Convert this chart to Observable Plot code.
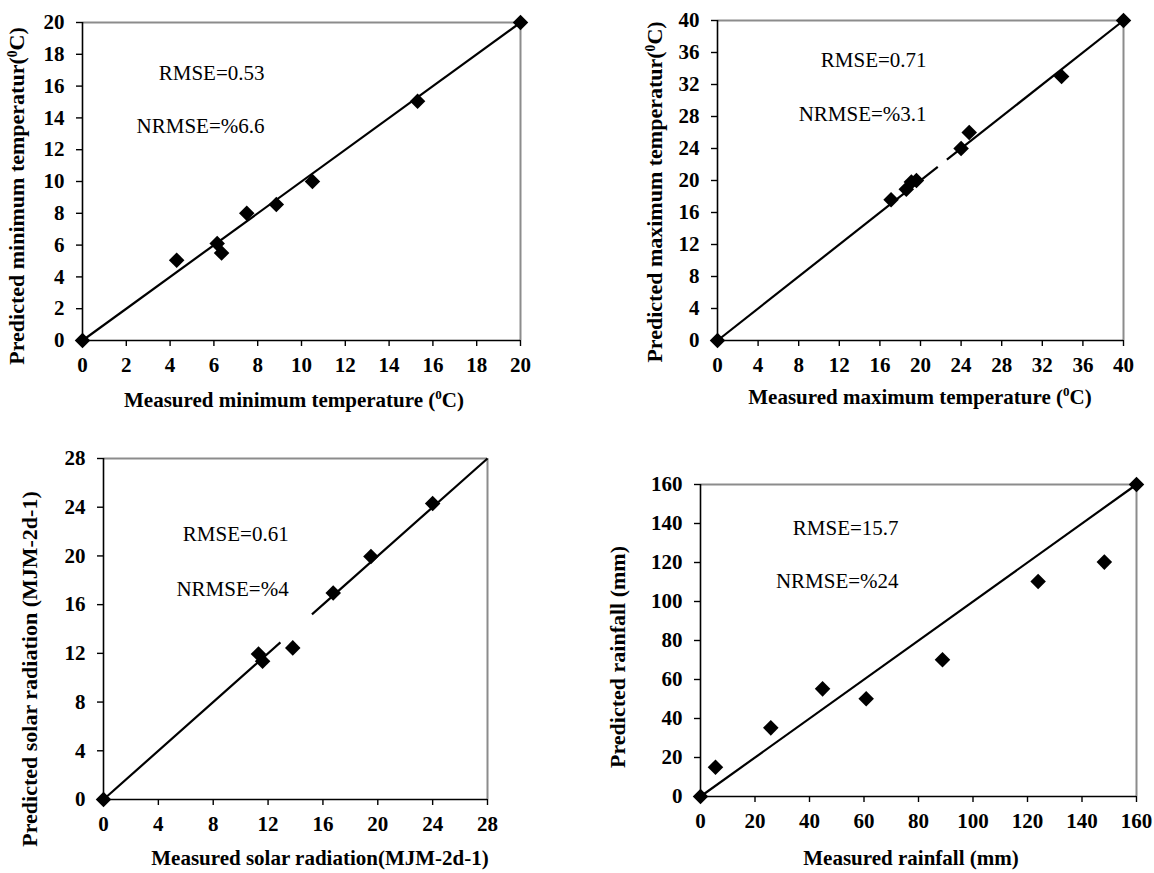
<!DOCTYPE html>
<html>
<head>
<meta charset="utf-8">
<script src="https://cdn.jsdelivr.net/npm/d3@7"></script>
<script src="https://cdn.jsdelivr.net/npm/@observablehq/plot@0.6"></script>
<style>
  body { margin: 0; background: #fff; }
  #figure { position: relative; width: 1154px; height: 873px; font-family: "Liberation Serif", "Times New Roman", serif; color: #000; }
  .panel { position: absolute; }
  .title { position: absolute; font-weight: bold; font-size: 21px; line-height: 1; white-space: nowrap; transform: translate(-50%, -50%); }
  .title.vertical { font-size: 22px; transform: translate(-50%, -50%) rotate(-90deg); }
  .title sup { font-size: 0.62em; vertical-align: 0.55em; line-height: 0; }
</style>
</head>
<body>
<div id="figure"></div>
<script>
// Measured vs. predicted values of the four weather variables
const minMeasured    = [0, 4.3, 6.15, 6.35, 7.5, 8.85, 10.5, 15.3, 20];
const minPredicted   = [0, 5.05, 6.1, 5.5, 8.0, 8.55, 10.0, 15.05, 20];
const maxMeasured    = [0, 17.1, 18.6, 19.1, 19.6, 24.0, 24.8, 33.9, 40];
const maxPredicted   = [0, 17.6, 18.9, 19.8, 20.0, 24.0, 26.0, 33.0, 40];
const solarMeasured  = [0, 11.3, 11.6, 13.8, 16.75, 19.5, 24.0];
const solarPredicted = [0, 11.95, 11.35, 12.45, 16.95, 19.95, 24.3];
const rainMeasured   = [0, 5.5, 25.8, 44.8, 60.8, 88.8, 123.9, 148.2, 160];
const rainPredicted  = [0, 15, 35.2, 55.2, 50.1, 70.1, 110.3, 120.2, 160];

// 1:1 reference line pieces (start, end along x = y)
const minLine   = [[0, 20]];
const maxLine   = [[0, 21.7], [22.6, 40]];
const solarLine = [[0, 12.9], [15.2, 28]];
const rainLine  = [[0, 160]];

// Axis tick values
const minTicks   = [0, 2, 4, 6, 8, 10, 12, 14, 16, 18, 20];
const maxTicks   = [0, 4, 8, 12, 16, 20, 24, 28, 32, 36, 40];
const solarTicks = [0, 4, 8, 12, 16, 20, 24, 28];
const rainTicks  = [0, 20, 40, 60, 80, 100, 120, 140, 160];

// Error statistics
const rmseLabels  = ["RMSE=0.53", "RMSE=0.71", "RMSE=0.61", "RMSE=15.7"];
const nrmseLabels = ["NRMSE=%6.6", "NRMSE=%3.1", "NRMSE=%4", "NRMSE=%24"];

// Axis titles
const xTitles = [
  "Measured minimum temperature (⁰C)",
  "Measured maximum temperature (⁰C)",
  "Measured solar radiation(MJM-2d-1)",
  "Measured rainfall (mm)"
];
const yTitles = [
  "Predicted minimum temperatur(⁰C)",
  "Predicted maximum temperatur(⁰C)",
  "Predicted solar radiation (MJM-2d-1)",
  "Predicted rainfall (mm)"
];

const serif = "'Liberation Serif', 'Times New Roman', serif";
const figure = document.getElementById("figure");

function addTitle(text, cx, cy, vertical) {
  const el = document.createElement("div");
  el.className = "title" + (vertical ? " vertical" : "");
  el.style.left = cx + "px";
  el.style.top = cy + "px";
  const parts = text.split("⁰");
  el.appendChild(document.createTextNode(parts[0]));
  for (let i = 1; i < parts.length; i++) {
    const sup = document.createElement("sup");
    sup.textContent = "0";
    el.appendChild(sup);
    el.appendChild(document.createTextNode(parts[i]));
  }
  figure.appendChild(el);
}

function scatterPanel(cfg) {
  const points = cfg.measured.map((m, i) => ({measured: m, predicted: cfg.predicted[i]}));
  const top = cfg.ticks[cfg.ticks.length - 1];
  const axisStyle = {
    label: null, tickSize: 6, tickPadding: 12, fontSize: 21, fontWeight: "bold",
    stroke: "#000", strokeWidth: 1.4, fill: "#000"
  };
  const chart = Plot.plot({
    width: cfg.width,
    height: cfg.height,
    marginLeft: cfg.margin[0],
    marginRight: cfg.margin[1],
    marginTop: cfg.margin[2],
    marginBottom: cfg.margin[3],
    x: {domain: [0, top]},
    y: {domain: [0, top]},
    style: "background: transparent; overflow: visible; max-width: none; color: #000;",
    marks: [
      Plot.ruleY([top], {stroke: "#8c8c8c", strokeWidth: 2}),
      Plot.ruleX([top], {stroke: "#8c8c8c", strokeWidth: 2}),
      Plot.axisX(cfg.ticks, {...axisStyle, tickPadding: 11}),
      Plot.axisY(cfg.ticks, axisStyle),
      Plot.ruleY([0], {stroke: "#000", strokeWidth: 1.6}),
      Plot.ruleX([0], {stroke: "#000", strokeWidth: 1.6}),
      Plot.link(cfg.line, {x1: d => d[0], y1: d => d[0], x2: d => d[1], y2: d => d[1], stroke: "#000", strokeWidth: 2.2}),
      Plot.text([cfg.rmse], {x: () => cfg.statX, y: () => cfg.rmseY, text: d => d, textAnchor: "end", fontSize: 21, fill: "#000"}),
      Plot.text([cfg.nrmse], {x: () => cfg.statX, y: () => cfg.nrmseY, text: d => d, textAnchor: "end", fontSize: 21, fill: "#000"}),
      Plot.dot(points, {x: "measured", y: "predicted", symbol: "diamond2", r: 7, fill: "#000", stroke: "none"})
    ]
  });
  // Times-style serif for every label; tick labels set in bold
  chart.querySelectorAll("text").forEach((t) => { t.style.fontFamily = serif; });
  chart.querySelectorAll('g[aria-label$="tick label"] text').forEach((t) => {
    t.style.fontWeight = "bold";
    t.style.fontSize = "21px";
  });
  chart.classList.add("panel");
  chart.style.left = cfg.left + "px";
  chart.style.top = cfg.topPx + "px";
  figure.appendChild(chart);
}

scatterPanel({
  left: 0, topPx: 0, width: 577, height: 430, margin: [82, 57, 22, 90],
  ticks: minTicks, measured: minMeasured, predicted: minPredicted, line: minLine,
  rmse: rmseLabels[0], nrmse: nrmseLabels[0], statX: 8.31, rmseY: 16.8, nrmseY: 13.46
});
scatterPanel({
  left: 577, topPx: 0, width: 577, height: 430, margin: [140, 31, 20, 90],
  ticks: maxTicks, measured: maxMeasured, predicted: maxPredicted, line: maxLine,
  rmse: rmseLabels[1], nrmse: nrmseLabels[1], statX: 20.6, rmseY: 35.0, nrmseY: 28.25
});
scatterPanel({
  left: 0, topPx: 430, width: 577, height: 443, margin: [103, 90, 28, 74],
  ticks: solarTicks, measured: solarMeasured, predicted: solarPredicted, line: solarLine,
  rmse: rmseLabels[2], nrmse: nrmseLabels[2], statX: 13.5, rmseY: 21.8, nrmseY: 17.3
});
scatterPanel({
  left: 577, topPx: 430, width: 577, height: 443, margin: [123, 18, 54, 77],
  ticks: rainTicks, measured: rainMeasured, predicted: rainPredicted, line: rainLine,
  rmse: rmseLabels[3], nrmse: nrmseLabels[3], statX: 72.7, rmseY: 137.4, nrmseY: 110.3
});

addTitle(xTitles[0], 294, 400, false);
addTitle(yTitles[0], 17, 196, true);
addTitle(xTitles[1], 920, 397, false);
addTitle(yTitles[1], 655, 192, true);
addTitle(xTitles[2], 320, 858, false);
addTitle(yTitles[2], 30, 669, true);
addTitle(xTitles[3], 911, 858, false);
addTitle(yTitles[3], 618, 657, true);
</script>
</body>
</html>
